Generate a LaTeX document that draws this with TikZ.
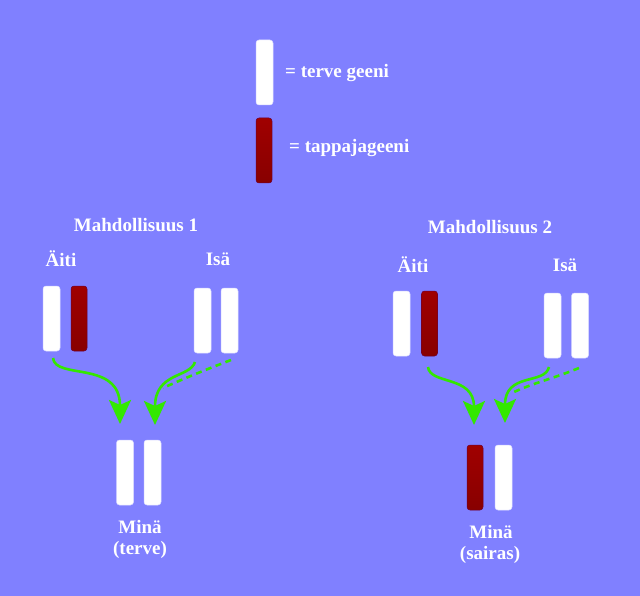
\documentclass[tikz,border=0pt]{standalone}
\usepackage{fontspec}
\setmainfont{Liberation Serif}
\usetikzlibrary{arrows.meta}
\definecolor{bg}{HTML}{8080FF}
\definecolor{gene}{HTML}{33E800}
\definecolor{redtop}{HTML}{A00000}
\definecolor{redbot}{HTML}{880000}
\tikzset{
  wbar/.style={fill=white, draw=white!85!blue, line width=0.5pt, rounded corners=3pt, minimum width=17pt, minimum height=65pt, inner sep=0pt},
  rbar/.style={top color=redtop, bottom color=redbot, draw=redbot!80!blue, line width=0.5pt, rounded corners=3pt, minimum width=16pt, minimum height=65pt, inner sep=0pt},
  lbl/.style={text=white, font=\fontsize{19}{21}\selectfont\bfseries, inner sep=0pt},
  inherit/.style={draw=gene, line width=2.6pt, -{Stealth[length=24pt,width=22pt,inset=5pt]}},
  inheritdash/.style={draw=gene, line width=2.6pt, dash pattern=on 6pt off 4.5pt},
}
\begin{document}
\begin{tikzpicture}[x=1pt,y=-1pt]
\fill[bg] (0,0) rectangle (640,596);
\useasboundingbox (0,0) rectangle (640,596);
% legend
\node[wbar] (legw) at (264.5,72.5) {};
\node[rbar] (legr) at (264,150.5) {};
\node[lbl, anchor=west] (legwt) at (285,73) {= terve geeni};
\node[lbl, anchor=west] (legrt) at (289,148) {= tappajageeni};
% group 1
\node[lbl] (t1) at (136,225) {Mahdollisuus 1};
\node[lbl] (ai1) at (61,259) {Äiti};
\node[lbl] (is1) at (218,259) {Isä};
\node[wbar] (m1a) at (51.5,318.5) {};
\node[rbar] (m1b) at (79,318.5) {};
\node[wbar] (f1a) at (202.5,320.5) {};
\node[wbar] (f1b) at (229.5,320.5) {};
\node[wbar] (c1a) at (125,472.5) {};
\node[wbar] (c1b) at (152.5,472.5) {};
\node[lbl] (mi1) at (140,527) {Minä};
\node[lbl] (st1) at (140,550) {(terve)};
\coordinate (s1a) at (53,358);
\coordinate (e1a) at (120,424);
\coordinate (s1b) at (195,362);
\coordinate (e1b) at (155,425);
\coordinate (s1c) at (231,360);
\coordinate (e1c) at (163,388);
\draw[inherit] (s1a) .. controls (55,380) and (120,360) .. (e1a);
\draw[inherit] (s1b) .. controls (190,378) and (155,372) .. (e1b);
\draw[inheritdash] (s1c) .. controls (205,370) and (185,378) .. (e1c);
% group 2
\node[lbl] (t2) at (490,227) {Mahdollisuus 2};
\node[lbl] (ai2) at (413,265) {Äiti};
\node[lbl] (is2) at (565,265) {Isä};
\node[wbar] (m2a) at (401.5,323.5) {};
\node[rbar] (m2b) at (429.5,323.5) {};
\node[wbar] (f2a) at (552.5,325.5) {};
\node[wbar] (f2b) at (580,325.5) {};
\node[rbar] (c2a) at (475,477.5) {};
\node[wbar] (c2b) at (503.5,477.5) {};
\node[lbl] (mi2) at (491,532) {Minä};
\node[lbl] (st2) at (490,555) {(sairas)};
\coordinate (s2a) at (428,367);
\coordinate (e2a) at (474,425);
\coordinate (s2b) at (549,367);
\coordinate (e2b) at (505,423);
\coordinate (s2c) at (579,368);
\coordinate (e2c) at (512,393);
\draw[inherit] (s2a) .. controls (430,385) and (474,375) .. (e2a);
\draw[inherit] (s2b) .. controls (545,385) and (505,372) .. (e2b);
\draw[inheritdash] (s2c) .. controls (555,378) and (530,384) .. (e2c);
\end{tikzpicture}
\end{document}
